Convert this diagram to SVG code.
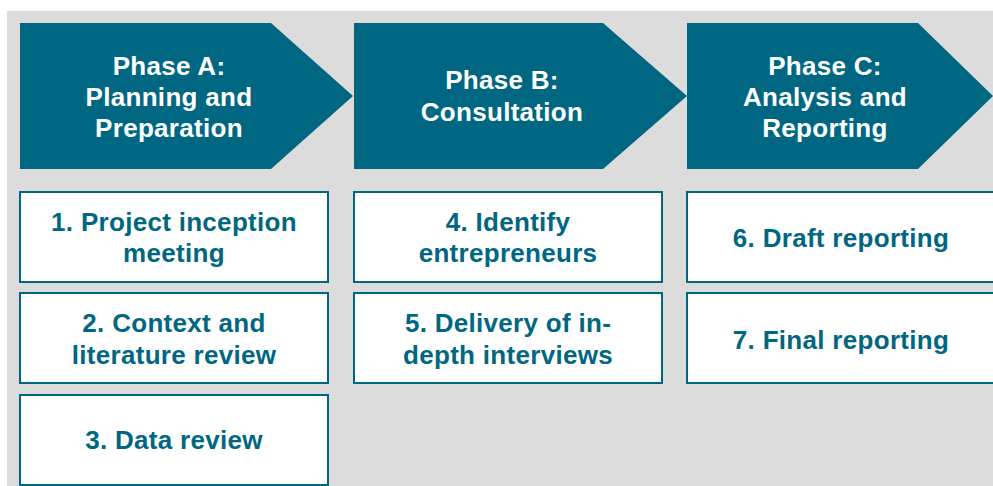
<svg xmlns="http://www.w3.org/2000/svg" width="993" height="486" viewBox="0 0 993 486">
  <style>
    .phase { fill: #006782; }
    .phase-text { fill: #ffffff; font-family: "Liberation Sans", Arial, sans-serif; font-weight: bold; font-size: 26px; letter-spacing: 0.3px; text-anchor: middle; }
    .task { fill: #ffffff; stroke: #006782; stroke-width: 2; }
    .task-text { fill: #006782; font-family: "Liberation Sans", Arial, sans-serif; font-weight: bold; font-size: 26px; letter-spacing: 0.3px; text-anchor: middle; }
  </style>
  <rect x="0" y="0" width="993" height="486" fill="#ffffff"/>
  <rect x="7" y="11" width="986" height="475" fill="#dcdcdc"/>

  <!-- Phase chevrons -->
  <g id="phase-a">
    <polygon class="phase" points="20,23 271,23 353,96 271,169 20,169"/>
    <text class="phase-text" x="169" y="75">Phase A:</text>
    <text class="phase-text" x="169" y="106">Planning and</text>
    <text class="phase-text" x="169" y="137">Preparation</text>
  </g>
  <g id="phase-b">
    <polygon class="phase" points="354,23 603,23 687,96 603,169 354,169"/>
    <text class="phase-text" x="502" y="89">Phase B:</text>
    <text class="phase-text" x="502" y="121">Consultation</text>
  </g>
  <g id="phase-c">
    <polygon class="phase" points="687,23 918,23 993,96 918,169 687,169"/>
    <text class="phase-text" x="825" y="75">Phase C:</text>
    <text class="phase-text" x="825" y="106">Analysis and</text>
    <text class="phase-text" x="825" y="137">Reporting</text>
  </g>

  <!-- Tasks, column A -->
  <g id="task-1">
    <rect class="task" x="20" y="192" width="308" height="90"/>
    <text class="task-text" x="174" y="231">1. Project inception</text>
    <text class="task-text" x="174" y="262">meeting</text>
  </g>
  <g id="task-2">
    <rect class="task" x="20" y="293" width="308" height="90"/>
    <text class="task-text" x="174" y="332">2. Context and</text>
    <text class="task-text" x="174" y="364">literature review</text>
  </g>
  <g id="task-3">
    <rect class="task" x="20" y="395" width="308" height="90"/>
    <text class="task-text" x="174" y="449">3. Data review</text>
  </g>

  <!-- Tasks, column B -->
  <g id="task-4">
    <rect class="task" x="354" y="192" width="308" height="90"/>
    <text class="task-text" x="508" y="231">4. Identify</text>
    <text class="task-text" x="508" y="262">entrepreneurs</text>
  </g>
  <g id="task-5">
    <rect class="task" x="354" y="293" width="308" height="90"/>
    <text class="task-text" x="508" y="332">5. Delivery of in-</text>
    <text class="task-text" x="508" y="364">depth interviews</text>
  </g>

  <!-- Tasks, column C -->
  <g id="task-6">
    <rect class="task" x="687" y="192" width="310" height="90"/>
    <text class="task-text" x="841" y="247">6. Draft reporting</text>
  </g>
  <g id="task-7">
    <rect class="task" x="687" y="293" width="310" height="90"/>
    <text class="task-text" x="841" y="349">7. Final reporting</text>
  </g>

  <g id="connectors"/>
</svg>
